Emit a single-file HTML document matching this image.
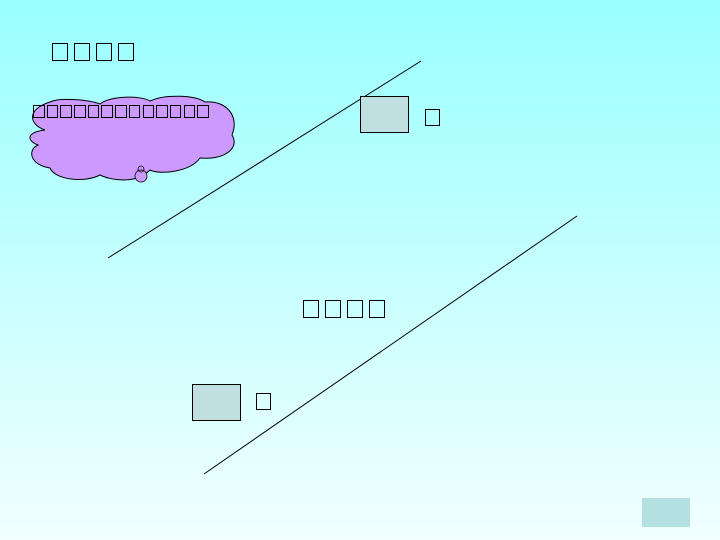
<!DOCTYPE html>
<html><head><meta charset="utf-8"><style>
html,body{margin:0;padding:0}
body{width:720px;height:540px;position:relative;overflow:hidden;background:linear-gradient(#99ffff,#f2ffff);font-family:"Liberation Sans","Noto Sans CJK SC",sans-serif}
.t{position:absolute;display:flex}
.t span{display:inline-block;box-sizing:border-box;border:1.5px solid #000;color:transparent;overflow:hidden;font-size:1px}
</style></head><body>
<svg width="720" height="540" style="position:absolute;left:0;top:0">
<path d="M45,130 C30,125 25,110 50,102 C60,97 90,100 100,104 C110,96 140,95 150,101 C165,94 195,95 205,102 C225,100 240,115 232,135 C240,148 225,160 200,158 C190,172 160,175 150,170 C135,185 110,180 100,175 C85,183 55,180 50,168 C30,165 27,150 38,145 C25,140 28,132 45,130 Z" fill="#cc99ff" stroke="#000" stroke-width="1"/>
<circle cx="141" cy="176" r="6" fill="#cc99ff" stroke="#000" stroke-width="0.8"/>
<circle cx="141" cy="169" r="3" fill="none" stroke="#000" stroke-width="0.8"/>
<line x1="108" y1="258" x2="421" y2="61" stroke="#000" stroke-width="1"/>
<line x1="204" y1="474" x2="577" y2="216" stroke="#000" stroke-width="1"/>
<rect x="360.5" y="96.5" width="48" height="36" fill="#bfdfe0" stroke="#000" stroke-width="1"/>
<rect x="192.5" y="384.5" width="48" height="36" fill="#bfdfe0" stroke="#000" stroke-width="1"/>
<rect x="642" y="498" width="48" height="29" fill="#b3e0e0"/>
</svg>
<div class="t" style="left:52px;top:43px;gap:6px"><span style="width:16px;height:18px">例</span><span style="width:16px;height:18px">题</span><span style="width:16px;height:18px">讲</span><span style="width:16px;height:18px">解</span></div>
<div class="t" style="left:33px;top:105px;gap:2.2px"><span style="width:11.5px;height:13px">一</span><span style="width:11.5px;height:13px">二</span><span style="width:11.5px;height:13px">三</span><span style="width:11.5px;height:13px">四</span><span style="width:11.5px;height:13px">五</span><span style="width:11.5px;height:13px">六</span><span style="width:11.5px;height:13px">七</span><span style="width:11.5px;height:13px">八</span><span style="width:11.5px;height:13px">九</span><span style="width:11.5px;height:13px">十</span><span style="width:11.5px;height:13px">甲</span><span style="width:11.5px;height:13px">乙</span><span style="width:11.5px;height:13px">丙</span></div>
<div class="t" style="left:425px;top:109px"><span style="width:15px;height:17px">度</span></div>
<div class="t" style="left:303px;top:300px;gap:6px"><span style="width:16px;height:18px">练</span><span style="width:16px;height:18px">一</span><span style="width:16px;height:18px">练</span><span style="width:16px;height:18px">吧</span></div>
<div class="t" style="left:256px;top:393px"><span style="width:15px;height:17px">度</span></div>
</body></html>
